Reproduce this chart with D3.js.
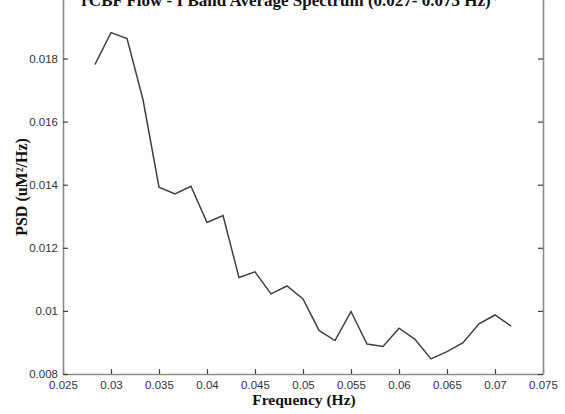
<!DOCTYPE html>
<html>
<head>
<meta charset="utf-8">
<script src="https://cdn.jsdelivr.net/npm/d3@7"></script>
<style>
  html, body { margin: 0; padding: 0; background: #fff; }
  svg { display: block; overflow: hidden; }
</style>
</head>
<body>
<script>
// Band-averaged power spectral density, 0.027–0.073 Hz band
const frequencies = [
  0.02833, 0.03000, 0.03167, 0.03333, 0.03500, 0.03667, 0.03833, 0.04000, 0.04167,
  0.04333, 0.04500, 0.04667, 0.04833, 0.05000, 0.05167, 0.05333, 0.05500, 0.05667,
  0.05833, 0.06000, 0.06167, 0.06333, 0.06500, 0.06667, 0.06833, 0.07000, 0.07167
];
const psd = [
  0.01781, 0.01882, 0.01863, 0.01670, 0.01392, 0.01371, 0.01395, 0.01280, 0.01302,
  0.01106, 0.01124, 0.01054, 0.01079, 0.01038, 0.00938, 0.00906, 0.00998, 0.00895,
  0.00887, 0.00945, 0.00910, 0.00848, 0.00871, 0.00899, 0.00959, 0.00987, 0.00952
];
const xTicks = [0.025, 0.03, 0.035, 0.04, 0.045, 0.05, 0.055, 0.06, 0.065, 0.07, 0.075];
const yTicks = [0.008, 0.01, 0.012, 0.014, 0.016, 0.018, 0.02];
const titleText = "rCBF Flow - I Band Average Spectrum (0.027- 0.073 Hz)";

const W = 565, H = 414;
const plotLeft = 63, plotRight = 543, plotBottom = 374, plotTop = -4.6;

const svg = d3.select("body").append("svg")
  .attr("width", W).attr("height", H);

const x = d3.scaleLinear().domain([0.025, 0.075]).range([plotLeft, plotRight]);
const y = d3.scaleLinear().domain([0.008, 0.02]).range([plotBottom, plotTop]);

const fmt = d => String(+d.toFixed(3));
const tickFont = "'Liberation Sans', Arial, sans-serif";

function styleAxis(g) {
  g.select(".domain").attr("stroke", "#8a8a8a").attr("stroke-width", 1.6);
  g.selectAll(".tick line").attr("stroke", "#444").attr("stroke-width", 1.2);
  g.selectAll(".tick text")
    .attr("fill", "#333")
    .style("font-family", tickFont)
    .style("font-size", "11.5px");
}

// bottom axis with inward ticks
svg.append("g")
  .attr("transform", `translate(0,${plotBottom})`)
  .call(d3.axisBottom(x).tickValues(xTicks).tickFormat(fmt).tickSizeInner(-5).tickSizeOuter(0).tickPadding(7))
  .call(styleAxis);

// top axis (box)
svg.append("g")
  .attr("transform", `translate(0,${plotTop})`)
  .call(d3.axisTop(x).tickValues(xTicks).tickFormat("").tickSizeInner(-5).tickSizeOuter(0))
  .call(styleAxis);

// left axis with inward ticks
svg.append("g")
  .attr("transform", `translate(${plotLeft},0)`)
  .call(d3.axisLeft(y).tickValues(yTicks).tickFormat(fmt).tickSizeInner(-5).tickSizeOuter(0).tickPadding(5))
  .call(styleAxis);

// right axis (box)
svg.append("g")
  .attr("transform", `translate(${plotRight},0)`)
  .call(d3.axisRight(y).tickValues(yTicks).tickFormat("").tickSizeInner(-5).tickSizeOuter(0))
  .call(styleAxis);

// spectrum line
const line = d3.line()
  .x((d, i) => x(frequencies[i]))
  .y(d => y(d));

svg.append("path")
  .datum(psd)
  .attr("fill", "none")
  .attr("stroke", "#404040")
  .attr("stroke-width", 1.5)
  .attr("stroke-linejoin", "miter")
  .attr("d", line);

const labelFont = "'Liberation Serif', 'DejaVu Serif', serif";

// axis titles
svg.append("text")
  .attr("x", (plotLeft + plotRight) / 2 + 1)
  .attr("y", 405)
  .attr("text-anchor", "middle")
  .style("font-family", labelFont)
  .style("font-weight", "bold")
  .style("font-size", "15.5px")
  .attr("fill", "#111")
  .text("Frequency (Hz)");

svg.append("text")
  .attr("transform", `translate(27,187) rotate(-90)`)
  .attr("text-anchor", "middle")
  .style("font-family", labelFont)
  .style("font-weight", "bold")
  .style("font-size", "16px")
  .attr("fill", "#111")
  .text("PSD (uM²/Hz)");

// chart title
svg.append("text")
  .attr("x", 286)
  .attr("y", 6)
  .attr("text-anchor", "middle")
  .style("font-family", labelFont)
  .style("font-weight", "bold")
  .style("font-size", "17px")
  .attr("fill", "#111")
  .text(titleText);
</script>
</body>
</html>
